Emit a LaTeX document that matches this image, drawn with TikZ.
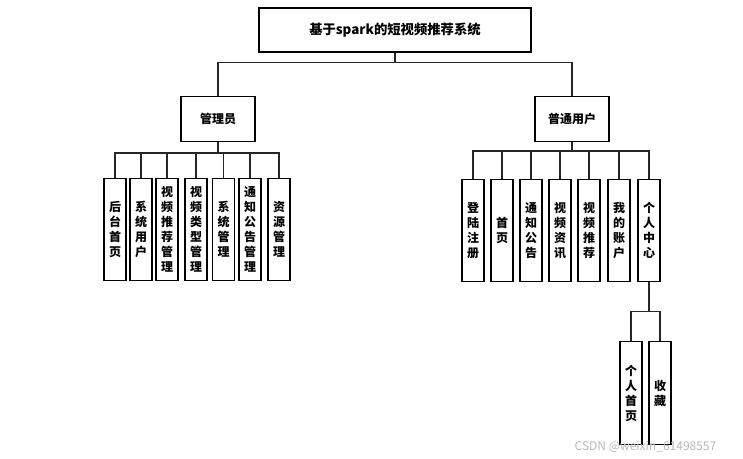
\documentclass[tikz,border=0pt]{standalone}
\usepackage{fontspec}
\newfontfamily\cjk{Noto Sans CJK SC}
\usetikzlibrary{positioning}

\begin{document}
\begin{tikzpicture}[
    x=0.75pt, y=-0.75pt,
    top/.style={rectangle, draw, line width=0.9pt, minimum width=204pt, minimum height=33pt, font=\cjk\bfseries\fontsize{10}{12}\selectfont},
    role/.style={rectangle, draw, line width=0.9pt, minimum width=55.5pt, minimum height=33.75pt, font=\cjk\bfseries\fontsize{9}{11}\selectfont},
    leaf/.style={rectangle, draw, line width=0.9pt, inner sep=0pt, minimum width=16.5pt, minimum height=77pt, align=center, font=\cjk\bfseries\fontsize{9}{11.25}\selectfont},
    link/.style={line width=0.9pt, black!85},
    mark text/.style={font=\cjk\fontsize{9}{11}\selectfont, text=gray!55}
]
\useasboundingbox (0,0) rectangle (743,459);

% Root
\node[top] (root) at (395,30) {基于spark的短视频推荐系统};

% Roles
\node[role] (admin) at (218,119) {管理员};
\node[role] (user) at (572,119) {普通用户};

% Admin functions
\node[leaf] (a1) at (115,229.5) {后\\台\\首\\页};
\node[leaf] (a2) at (141,229.5) {系\\统\\用\\户};
\node[leaf] (a3) at (167,229.5) {视\\频\\推\\荐\\管\\理};
\node[leaf] (a4) at (196,229.5) {视\\频\\类\\型\\管\\理};
\node[leaf] (a5) at (223.5,229.5) {系\\统\\管\\理};
\node[leaf] (a6) at (250,229.5) {通\\知\\公\\告\\管\\理};
\node[leaf] (a7) at (279,229.5) {资\\源\\管\\理};

% User functions
\node[leaf] (u1) at (473,230.5) {登\\陆\\注\\册};
\node[leaf] (u2) at (502,230.5) {首\\页};
\node[leaf] (u3) at (531,230.5) {通\\知\\公\\告};
\node[leaf] (u4) at (560,230.5) {视\\频\\资\\讯};
\node[leaf] (u5) at (589,230.5) {视\\频\\推\\荐};
\node[leaf] (u6) at (619,230.5) {我\\的\\账\\户};
\node[leaf] (u7) at (649,230.5) {个\\人\\中\\心};

% Personal centre
\node[leaf] (p1) at (631,393) {个\\人\\首\\页};
\node[leaf] (p2) at (660,393) {收\\藏};

% Edges from root to roles
\draw[link] (root.south) -- ++(0,10) -| (admin.north);
\draw[link] (root.south) -- ++(0,10) -| (user.north);

% Edges from admin
\draw[link] (admin.south) -- ++(0,11) -| (a1.north);
\draw[link] (admin.south) -- ++(0,11) -| (a2.north);
\draw[link] (admin.south) -- ++(0,11) -| (a3.north);
\draw[link] (admin.south) -- ++(0,11) -| (a4.north);
\draw[link] (admin.south) -- ++(0,11) -| (a5.north);
\draw[link] (admin.south) -- ++(0,11) -| (a6.north);
\draw[link] (admin.south) -- ++(0,11) -| (a7.north);

% Edges from user
\draw[link] (user.south) -- ++(0,9) -| (u1.north);
\draw[link] (user.south) -- ++(0,9) -| (u2.north);
\draw[link] (user.south) -- ++(0,9) -| (u3.north);
\draw[link] (user.south) -- ++(0,9) -| (u4.north);
\draw[link] (user.south) -- ++(0,9) -| (u5.north);
\draw[link] (user.south) -- ++(0,9) -| (u6.north);
\draw[link] (user.south) -- ++(0,9) -| (u7.north);

% Edges from personal centre
\draw[link] (u7.south) -- ++(0,29) -| (p1.north);
\draw[link] (u7.south) -- ++(0,29) -| (p2.north);

\node[mark text, anchor=east] (mark) at (721,447) {CSDN @weixin\_61498557};
\end{tikzpicture}
\end{document}
